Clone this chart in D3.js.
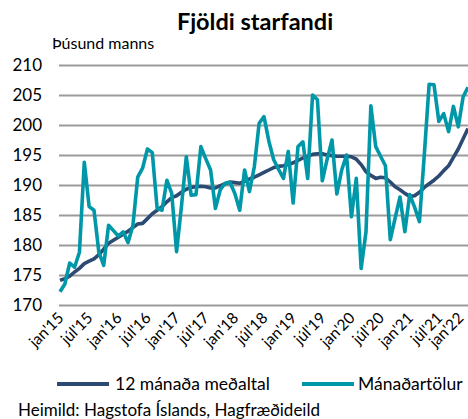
<!DOCTYPE html>
<html><head><meta charset="utf-8">
<script src="https://cdn.jsdelivr.net/npm/d3@7"></script>
<style>
html,body{margin:0;padding:0;background:#fff;}
text{font-family:Lato,"Open Sans",sans-serif;fill:#000;}
</style></head>
<body>
<svg id="c" width="468" height="419"></svg>
<script>
const months = [];
for (let y = 15; y <= 22; y++) for (let m = 1; m <= 12; m++) { if (y === 22 && m > 1) break; months.push((m < 10 ? "0" : "") + m + "/" + y); }
const tickLabels = ["jan'15","júl'15","jan'16","júl'16","jan'17","júl'17","jan'18","júl'18","jan'19","júl'19","jan'20","júl'20","jan'21","júl'21","jan'22"];
const yTicks = [170,175,180,185,190,195,200,205,210];
const monthly = [172.2,173.5,177.0,176.3,178.8,193.8,186.4,185.8,178.8,176.6,
183.3,182.4,181.5,182.2,180.4,183.2,191.3,192.8,196.0,195.4,
186.1,185.8,190.8,188.6,178.9,186.4,194.7,188.3,188.4,196.4,
194.4,192.5,186.1,189.2,190.3,190.4,188.6,185.8,192.5,188.9,
193.0,200.3,201.4,197.3,194.2,192.6,191.1,195.6,187.0,196.4,
197.2,191.1,205.0,204.2,190.7,194.3,197.5,188.5,192.5,195.0,
184.7,191.1,176.1,182.2,203.2,196.4,194.8,193.2,180.9,184.5,
188.0,182.2,188.4,186.3,183.9,195.0,206.8,206.7,200.6,201.9,
198.9,203.1,199.7,204.7,206.3];
const avg12 = [174.1,174.4,174.8,175.5,176.1,176.9,177.3,177.7,178.4,179.3,
180.3,180.8,181.3,181.8,182.3,182.9,183.5,183.6,184.4,185.2,
185.8,186.4,187.2,187.9,188.2,188.8,189.3,189.6,189.7,189.8,
189.7,189.5,189.5,189.9,190.2,190.5,190.4,190.3,190.6,191.0,
191.3,191.7,192.1,192.5,192.9,193.1,193.2,193.4,193.7,194.1,
194.5,194.8,195.1,195.2,195.2,195.0,194.9,194.8,194.8,194.8,
194.7,194.3,193.4,192.2,191.6,191.1,191.3,191.2,190.5,189.7,
189.2,188.6,188.1,188.2,188.8,189.6,190.2,190.8,191.5,192.4,
193.2,194.6,196.0,197.7,199.4];
const seriesNames = ["12 mánaða meðaltal","Mánaðartölur"];
const colors = ["#2C4A72","#0098A8"];

const svg = d3.select("#c");
const x = d3.scalePoint().domain(months).range([60, 468]);
const y = d3.scaleLinear().domain([170, 210]).range([305, 65]);

svg.append("text").attr("x", 255).attr("y", 30).attr("text-anchor","middle")
  .style("font-size","23.5px").style("font-weight","bold").text("Fjöldi starfandi");
svg.append("text").attr("x", 52).attr("y", 49).style("font-size","16px").text("Þúsund manns");

const ya = d3.axisLeft(y).tickValues(yTicks).tickSize(-409).tickPadding(17).tickFormat(d3.format("d"));
const gy = svg.append("g").attr("transform","translate(59,0)").call(ya);
gy.select(".domain").remove();
gy.selectAll(".tick line").attr("stroke","#9b9b9b").attr("stroke-width",2);
gy.selectAll(".tick text").style("font-size","17px").attr("fill","#000");

const tickIdx = tickLabels.map((t,i)=>months[i*6]);
const xa = d3.axisBottom(x).tickValues(tickIdx).tickSize(0).tickFormat((d,i)=>tickLabels[i]);
const gx = svg.append("g").attr("transform","translate(0,305)").call(xa);
gx.select(".domain").remove();
gx.selectAll(".tick text").style("font-size","15.5px").attr("fill","#000")
  .attr("text-anchor","end").attr("dy",null).attr("y",null)
  .attr("transform",(d,i)=> i === tickLabels.length-1 ? "translate(-4,14) rotate(-45)" : "translate(4,14) rotate(-45)");

const line = d3.line().x((d,i)=>x(months[i])).y(d=>y(d));
svg.append("path").datum(avg12).attr("d", line).attr("fill","none")
  .attr("stroke", colors[0]).attr("stroke-width",3.6).attr("stroke-linejoin","round");
svg.append("path").datum(monthly).attr("d", line).attr("fill","none")
  .attr("stroke", colors[1]).attr("stroke-width",3.6).attr("stroke-linejoin","round");

const lg = [[57,115],[302,358]];
seriesNames.forEach((n,i)=>{
  svg.append("line").attr("x1",lg[i][0]).attr("x2",lg[i][0]+52).attr("y1",384).attr("y2",384)
    .attr("stroke",colors[i]).attr("stroke-width",4);
  svg.append("text").attr("x",lg[i][1]).attr("y",390).style("font-size","17.5px").text(n);
});
svg.append("text").attr("x",18).attr("y",416).style("font-size","17px").text("Heimild: Hagstofa Íslands, Hagfræðideild");
</script>
</body></html>
